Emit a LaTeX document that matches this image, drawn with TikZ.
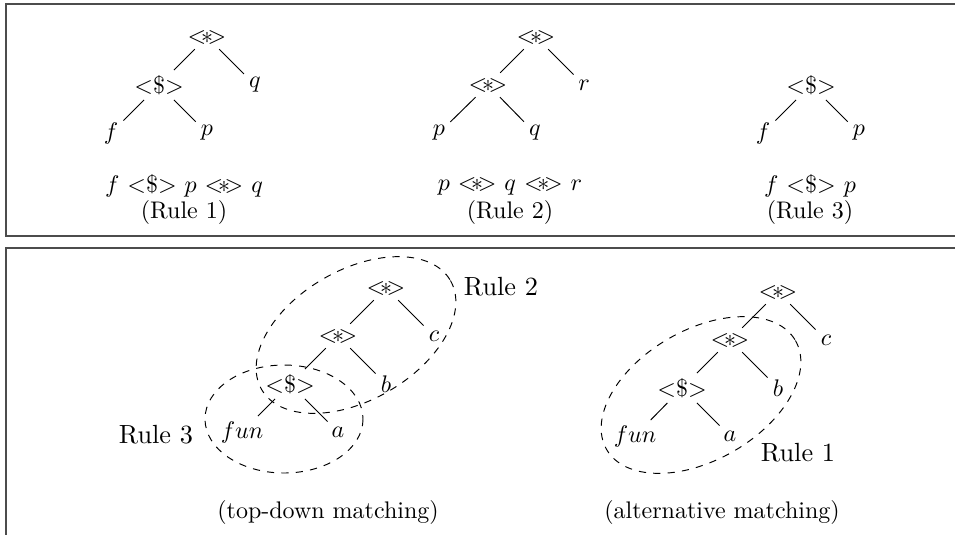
\documentclass[tikz,border=0pt]{standalone}
\usetikzlibrary{positioning}

\newcommand{\opstar}{\ensuremath{{<}\mkern-4mu{\ast}\mkern-4mu{>}}}
\newcommand{\opdollar}{\ensuremath{{<}\${>}}}

\begin{document}
\begin{tikzpicture}[x=0.41667pt, y=-0.41667pt,
    op/.style={inner sep=2pt},
    leaf/.style={inner sep=2pt},
    branch/.style={line width=0.4pt},
    region/.style={dashed, line width=0.4pt},
    frame/.style={draw=black!70, line width=0.6pt},
    rulename/.style={font=\fontsize{10.95}{13}\selectfont},
    caption/.style={inner sep=1pt},
]

\useasboundingbox (0,0) rectangle (955,535);

% === FRAMES ===
\draw[frame] (955,4) -| (6,236) -- (955,236);
\draw[frame] (955,248) -| (6,535);

% === RULE 1 ===
\node[op] (a1) at (207,37) {\opstar};
\node[op] (a2) at (159,85) {\opdollar};
\node[leaf] (aq) at (255,85) {$q$};
\node[leaf] (af) at (111,133) {$f$};
\node[leaf] (ap) at (207,133) {$p$};
\foreach \u/\v in {a1/a2, a1/aq, a2/af, a2/ap}
    \draw[branch] (\u) -- (\v);
\node[caption] (aexpr) at (184,186) {$f$ \opdollar{} $p$ \opstar{} $q$};
\node[caption] (alabel) at (184,212) {(Rule 1)};

% === RULE 2 ===
\node[op] (b1) at (536,37) {\opstar};
\node[op] (b2) at (488,85) {\opstar};
\node[leaf] (br) at (584,85) {$r$};
\node[leaf] (bp) at (439,133) {$p$};
\node[leaf] (bq) at (535,133) {$q$};
\foreach \u/\v in {b1/b2, b1/br, b2/bp, b2/bq}
    \draw[branch] (\u) -- (\v);
\node[caption] (bexpr) at (510,186) {$p$ \opstar{} $q$ \opstar{} $r$};
\node[caption] (blabel) at (510,212) {(Rule 2)};

% === RULE 3 ===
\node[op] (c1) at (811,85) {\opdollar};
\node[leaf] (cf) at (763,133) {$f$};
\node[leaf] (cp) at (859,133) {$p$};
\foreach \u/\v in {c1/cf, c1/cp}
    \draw[branch] (\u) -- (\v);
\node[caption] (cexpr) at (810,186) {$f$ \opdollar{} $p$};
\node[caption] (clabel) at (810,212) {(Rule 3)};

% === TOP-DOWN MATCHING ===
\node[op] (t1) at (386,288) {\opstar};
\node[op] (t2) at (338,336) {\opstar};
\node[leaf] (tc) at (434,336) {$c$};
\node[op] (t3) at (290,384) {\opdollar};
\node[leaf] (tb) at (386,384) {$b$};
\node[leaf] (tfun) at (242,432) {$fun$};
\node[leaf] (ta) at (338,432) {$a$};
\foreach \u/\v in {t1/t2, t1/tc, t2/t3, t2/tb, t3/tfun, t3/ta}
    \draw[branch] (\u) -- (\v);

\begin{scope}[shift={(356,335)}, rotate=30]
    \draw[region] (0,0) ellipse [x radius=109, y radius=65];
\end{scope}
\draw[region] (284,419) ellipse [x radius=79, y radius=54];

\node[rulename] (trule2) at (501,287) {Rule 2};
\node[rulename] (trule3) at (156,435) {Rule 3};
\node[caption] (tcap) at (328,512) {(top-down matching)};

% === ALTERNATIVE MATCHING ===
\node[op] (m1) at (778,292) {\opstar};
\node[op] (m2) at (730,340) {\opstar};
\node[leaf] (mc) at (826,340) {$c$};
\node[op] (m3) at (682,388) {\opdollar};
\node[leaf] (mb) at (778,388) {$b$};
\node[leaf] (mfun) at (635,436) {$fun$};
\node[leaf] (ma) at (730,436) {$a$};
\foreach \u/\v in {m1/m2, m1/mc, m2/m3, m2/mb, m3/mfun, m3/ma}
    \draw[branch] (\u) -- (\v);

\begin{scope}[shift={(701,395)}, rotate=30]
    \draw[region] (0,0) ellipse [x radius=109, y radius=65];
\end{scope}

\node[rulename] (mrule1) at (798,453) {Rule 1};
\node[caption] (mcap) at (722,512) {(alternative matching)};

\end{tikzpicture}
\end{document}
